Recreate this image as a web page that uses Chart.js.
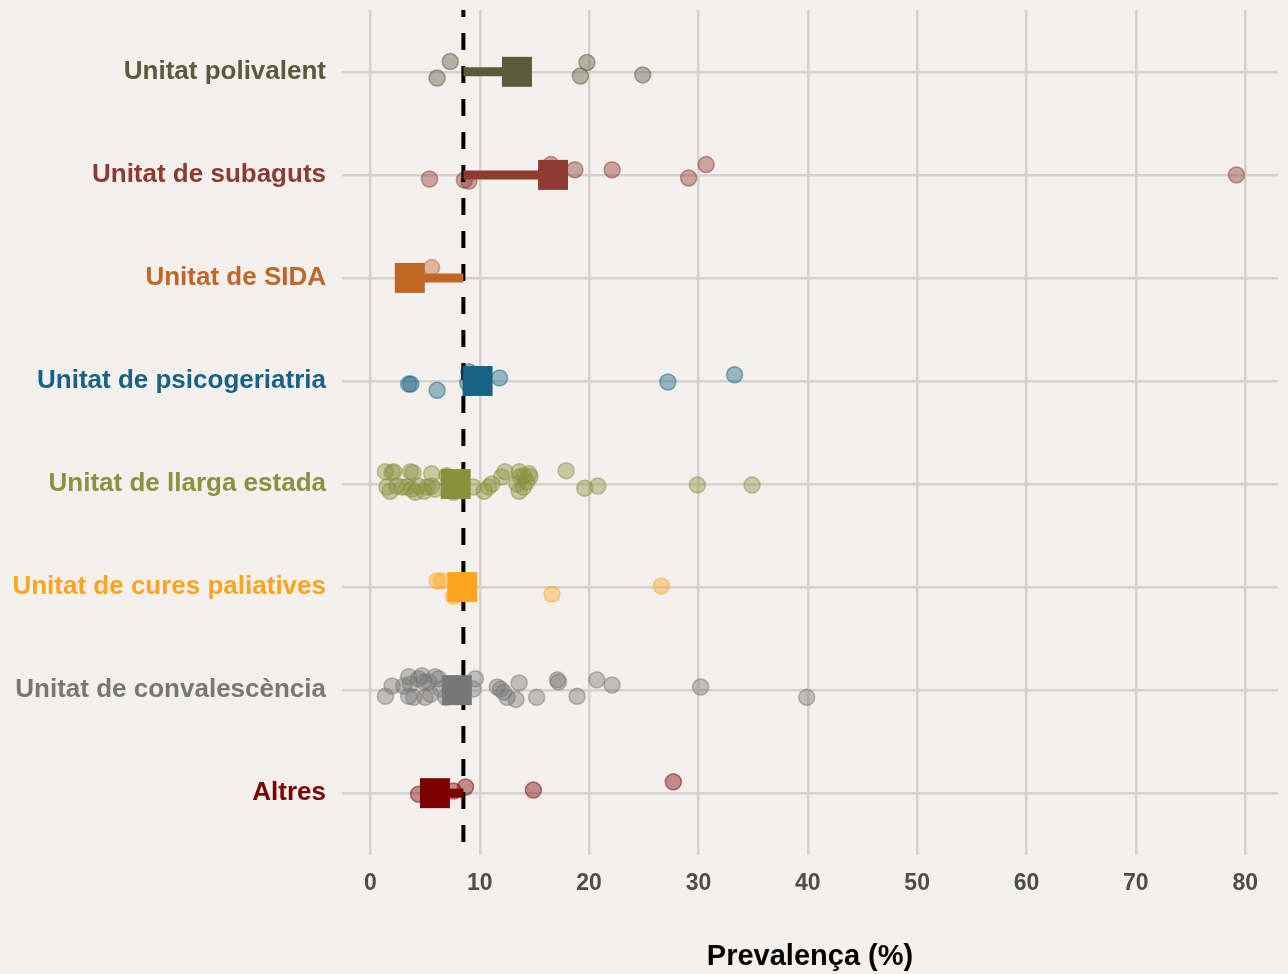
<!DOCTYPE html>
<html><head><meta charset="utf-8">
<script src="https://cdn.jsdelivr.net/npm/chart.js@4.4.1/dist/chart.umd.min.js"></script>
<style>html,body{margin:0;padding:0;background:#f4f0ed;} #wrap{width:1288px;height:974px;}</style>
</head><body><div id="wrap"><canvas id="c" width="1288" height="974"></canvas></div>
<script>
// ---- data ----
const categories = ["Unitat polivalent","Unitat de subaguts","Unitat de SIDA","Unitat de psicogeriatria","Unitat de llarga estada","Unitat de cures paliatives","Unitat de convalescència","Altres"];
const categoryColors = ["#5b5a3b","#8e3a30","#c26624","#176386","#8a913f","#ffa51d","#777777","#7b0000"];
const overallPrevalence = 8.5;
const meanPrevalence = [13.4, 16.7, 3.6, 9.8, 7.8, 8.4, 7.9, 5.9];
const xTicks = [0,10,20,30,40,50,60,70,80];

const polivalentValues = [7.3, 6.1, 19.8, 19.2, 24.9];
const polivalentJitter = [-0.10, 0.06, -0.09, 0.04, 0.03];
const subagutsValues = [5.4, 8.6, 9.0, 16.5, 18.7, 22.1, 29.1, 30.7, 79.2];
const subagutsJitter = [0.04, 0.05, 0.06, -0.10, -0.05, -0.05, 0.03, -0.10, 0.0];
const sidaValues = [5.6, 3.5];
const sidaJitter = [-0.10, 0.02];
const psicogeriatriaValues = [3.5, 3.7, 6.1, 9.0, 8.9, 11.8, 27.2, 33.3];
const psicogeriatriaJitter = [0.03, 0.03, 0.09, -0.09, 0.02, -0.03, 0.01, -0.06];
const llargaValues = [1.37, 2.13, 1.98, 3.66, 3.9, 5.6, 1.5, 1.8, 2.4, 2.9, 3.35, 3.8, 4.1, 4.4, 4.9, 5.2, 5.6, 5.9, 7.6, 9.4, 10.4, 10.8, 11.1, 12.0, 12.3, 13.6, 13.7, 14.0, 14.5, 14.6, 13.4, 14.0, 13.6, 14.3, 17.9, 19.6, 20.8, 29.9, 34.9, 7.0, 8.3];
const llargaJitter = [-0.12, -0.12, -0.11, -0.12, -0.11, -0.10, 0.03, 0.07, 0.02, 0.03, 0.03, 0.05, 0.08, 0.02, 0.07, 0.03, 0.02, 0.05, 0.08, 0.03, 0.07, 0.03, 0.0, -0.07, -0.12, -0.12, -0.07, -0.08, -0.10, -0.07, 0.0, 0.03, 0.07, -0.02, -0.13, 0.04, 0.02, 0.01, 0.01, -0.08, -0.06];
const paliativesValues = [6.1, 6.5, 7.6, 16.6, 26.6, 8.8];
const paliativesJitter = [-0.06, -0.06, 0.09, 0.07, -0.01, 0.0];
const convalescenciaValues = [1.37, 1.98, 3.05, 3.5, 3.66, 3.5, 3.96, 4.4, 4.7, 4.9, 5.0, 5.3, 5.5, 5.9, 6.25, 6.4, 6.9, 9.6, 9.4, 11.6, 11.9, 12.2, 12.5, 13.3, 13.6, 15.2, 17.1, 17.2, 18.9, 20.7, 22.1, 30.2, 39.9, 7.5, 8.5];
const convalescenciaJitter = [0.06, -0.04, -0.04, -0.13, -0.06, 0.06, 0.07, -0.11, -0.14, -0.08, 0.07, -0.08, 0.04, -0.13, -0.11, -0.01, 0.07, -0.11, -0.01, -0.03, -0.01, 0.02, 0.07, 0.09, -0.07, 0.07, -0.10, -0.08, 0.06, -0.10, -0.05, -0.03, 0.07, 0.0, 0.03];
const altresValues = [4.4, 7.6, 8.7, 14.9, 27.7, 5.5];
const altresJitter = [0.01, -0.02, -0.06, -0.03, -0.11, 0.0];

const pointValues = [polivalentValues, subagutsValues, sidaValues, psicogeriatriaValues, llargaValues, paliativesValues, convalescenciaValues, altresValues];
const pointJitter = [polivalentJitter, subagutsJitter, sidaJitter, psicogeriatriaJitter, llargaJitter, paliativesJitter, convalescenciaJitter, altresJitter];

// ---- helpers ----
function rgba(hex, a){
  const n = parseInt(hex.slice(1),16);
  return `rgba(${(n>>16)&255},${(n>>8)&255},${n&255},${a})`;
}

const datasets = [];
categories.forEach((cat, i) => {
  const yPos = i + 1;
  datasets.push({
    type: 'scatter',
    data: pointValues[i].map((v, k) => ({x: v, y: yPos + pointJitter[i][k]})),
    backgroundColor: rgba(categoryColors[i], 0.42),
    borderColor: rgba(categoryColors[i], 0.5),
    borderWidth: 1.5,
    pointRadius: 8,
    order: 3
  });
  datasets.push({
    type: 'line',
    data: [{x: overallPrevalence, y: yPos}, {x: meanPrevalence[i], y: yPos}],
    borderColor: categoryColors[i],
    borderWidth: 9,
    borderCapStyle: 'butt',
    pointRadius: 0,
    fill: false,
    order: 1
  });
  datasets.push({
    type: 'scatter',
    data: [{x: meanPrevalence[i], y: yPos}],
    backgroundColor: categoryColors[i],
    borderWidth: 0,
    pointStyle: 'rect',
    pointRadius: 21.2,
    order: 0
  });
});
datasets.push({
  type: 'line',
  data: [{x: overallPrevalence, y: 0.4}, {x: overallPrevalence, y: 8.6}],
  borderColor: '#000000',
  borderWidth: 4,
  borderDash: [17, 16],
  borderDashOffset: 10,
  borderCapStyle: 'butt',
  pointRadius: 0,
  fill: false,
  order: 2
});

const bgPlugin = {
  id: 'bg',
  beforeDraw(chart){
    const ctx = chart.ctx;
    ctx.save();
    ctx.fillStyle = '#f4f0ed';
    ctx.fillRect(0, 0, chart.width, chart.height);
    ctx.restore();
  }
};

new Chart(document.getElementById('c'), {
  type: 'scatter',
  data: { datasets },
  plugins: [bgPlugin],
  options: {
    responsive: false,
    animation: false,
    layout: { autoPadding: false, padding: { top: 10, right: 10, left: 0, bottom: 0 } },
    plugins: { legend: { display: false }, tooltip: { enabled: false } },
    scales: {
      x: {
        type: 'linear',
        min: -2.6,
        max: 83,
        afterBuildTicks: (s) => { s.ticks = xTicks.map(v => ({value: v})); },
        afterFit: (s) => { s.height = 119; s.paddingLeft = 0; s.paddingRight = 0; },
        grid: { color: '#d4d2d0', lineWidth: 2.5, drawTicks: false },
        border: { display: false },
        ticks: {
          padding: 15,
          color: '#4d4d4d',
          font: { family: "'Liberation Sans', Arial, sans-serif", weight: 'bold', size: 23 }
        },
        title: {
          display: true,
          text: 'Prevalença (%)',
          color: '#000000',
          font: { family: "'Liberation Sans', Arial, sans-serif", weight: 'bold', size: 29 },
          padding: { top: 0, bottom: 0 }
        }
      },
      y: {
        type: 'linear',
        reverse: true,
        min: 0.4,
        max: 8.6,
        afterBuildTicks: (s) => { s.ticks = categories.map((c, i) => ({value: i + 1})); },
        afterFit: (s) => { s.width = 342; s.paddingTop = 0; s.paddingBottom = 0; },
        grid: { color: '#d4d2d0', lineWidth: 2.5, drawTicks: false },
        border: { display: false },
        ticks: {
          padding: 16,
          callback: (v) => categories[Math.round(v) - 1] || '',
          color: (ctx) => categoryColors[Math.round(ctx.tick.value) - 1] || '#000',
          font: { family: "'Liberation Sans', Arial, sans-serif", weight: 'bold', size: 26 }
        }
      }
    }
  }
});
</script>
</body></html>
